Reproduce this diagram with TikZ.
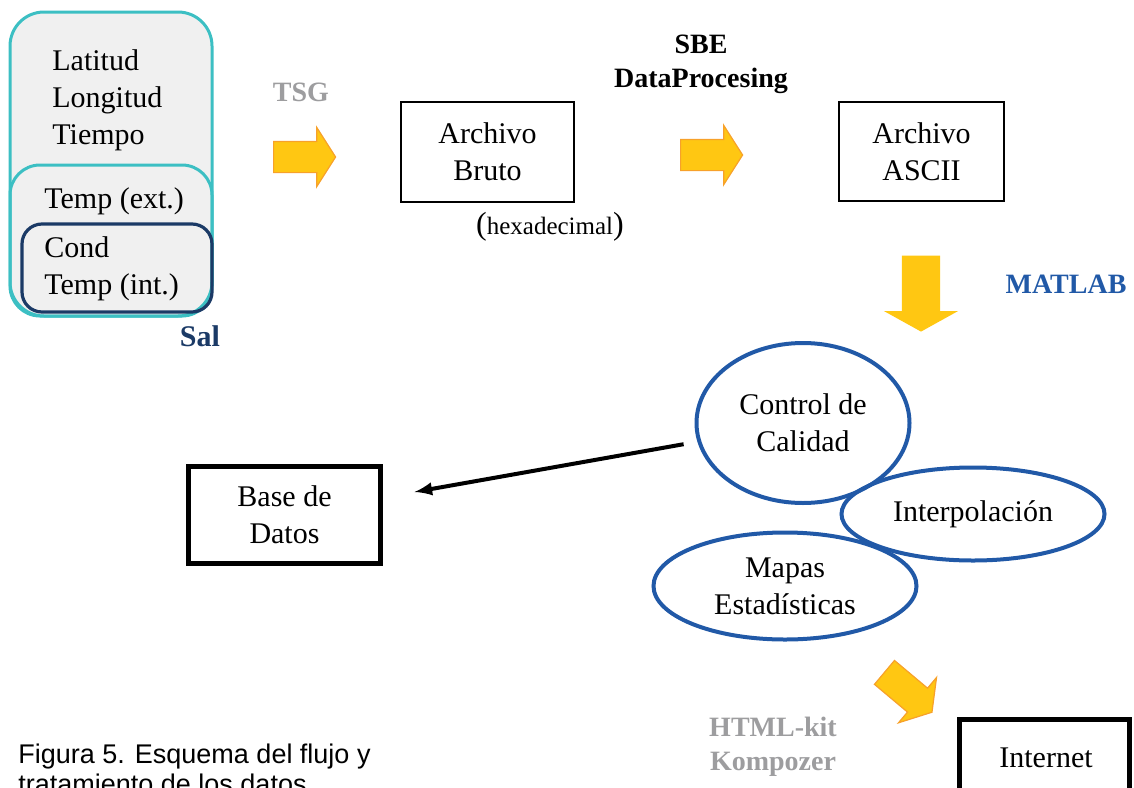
\documentclass[tikz,border=0pt]{standalone}
\usepackage{fontspec}
\setmainfont{Liberation Serif}
\newfontfamily\captionfont{Liberation Sans}
\usetikzlibrary{arrows}
\usetikzlibrary{shapes.geometric}
\usetikzlibrary{shapes.arrows}

\definecolor{tealline}{HTML}{3CBFC3}
\definecolor{navyline}{HTML}{1B3A66}
\definecolor{blueline}{HTML}{2159A7}
\definecolor{goldfill}{HTML}{FFC712}
\definecolor{orangeline}{HTML}{F7A12A}
\definecolor{toolgray}{HTML}{9D9D9F}

\begin{document}
\begin{tikzpicture}[x=.5pt,y=-.5pt, inner sep=0pt,
  font=\fontsize{15}{18.5}\selectfont,
  filebox/.style={draw, line width=1pt, align=center},
  bigbox/.style={draw, line width=2.5pt, align=center},
  oval/.style={ellipse, draw=blueline, line width=2pt, align=center},
  tool/.style={font=\fontsize{14}{17}\selectfont\bfseries, align=center},
  yarrow/.style={single arrow, fill=goldfill, draw=orangeline, line width=.6pt, inner xsep=0pt, inner ysep=7.5pt, minimum height=31pt, single arrow head extend=7pt, single arrow tip angle=115, anchor=tail},
]
\useasboundingbox (0,0) rectangle (1134,787);

% sensor variables
\draw[tealline, line width=1.5pt, fill=gray!12, rounded corners=17pt] (10,12) rectangle (212,316);
\draw[tealline, line width=1.5pt, rounded corners=15pt] (10,165) rectangle (212,316);
\draw[navyline, line width=1.6pt, rounded corners=10pt] (22,224) rectangle (212,312);
\node[align=left, anchor=west] (pos) at (52,100) {Latitud\\Longitud\\Tiempo};
\node[anchor=west] (ext) at (44,201) {Temp (ext.)};
\node[align=left, anchor=west] (intl) at (44,269) {Cond \ {\color{gray!12}y}\\Temp (int.)};
\node[tool, text=navyline, font=\fontsize{15}{18}\selectfont\bfseries] (sal) at (200,336) {Sal};

% raw file
\node[tool, text=toolgray] (tsg) at (301,92) {TSG};
\node[yarrow] (tsgarrow) at (273,157) {};
\node[filebox, minimum width=86.5pt, minimum height=50pt] (bruto) at (487.5,152) {Archivo\\Bruto};
\node[font=\fontsize{12.5}{15}\selectfont] (hexa) at (550,227) {{\fontsize{16}{18}\selectfont(}hexadecimal{\fontsize{16}{18}\selectfont)}};

% ascii file
\node[tool] (sbe) at (701,64) {SBE\\DataProcesing};
\node[yarrow] (sbearrow) at (680,155) {};
\node[filebox, minimum width=82.5pt, minimum height=49.5pt] (ascii) at (921.5,151.5) {Archivo\\ASCII};

% matlab
\node[yarrow, draw=none, rotate=-90, inner ysep=9.25pt, minimum height=38pt, single arrow head extend=9pt, single arrow tip angle=122] (matarrow) at (921,255) {};
\node[tool, text=blueline] (matlab) at (1066,284) {MATLAB};

\node[oval, minimum width=106.5pt, minimum height=80pt] (ctrl) at (803,423) {Control de\\Calidad};
\node[oval, minimum width=131.5pt, minimum height=46.5pt] (interp) at (973,514) {Interpolación};
\node[oval, minimum width=131.5pt, minimum height=53.5pt] (mapas) at (785,586) {Mapas\\Estadísticas};

\node[bigbox, minimum width=96pt, minimum height=48.5pt] (base) at (284.5,515) {Base de\\Datos};
\draw[-latex, line width=2pt, shorten <=7pt, shorten >=16pt] (ctrl) -- (base);

% web
\node[yarrow, rotate=-40] (webarrow) at (884,672) {};
\node[tool, text=toolgray] (html) at (773,747) {HTML-kit\\Kompozer};
\node[bigbox, minimum width=85pt, minimum height=84pt, anchor=north] (internet) at (1044.5,717) {};
\node (internettext) at (1046,758) {Internet};

\node[anchor=north west, align=left, font=\captionfont\fontsize{13.5}{15}\selectfont] (caption) at (18,744) {Figura 5. Esquema del flujo y\\tratamiento de los datos};
\end{tikzpicture}
\end{document}
